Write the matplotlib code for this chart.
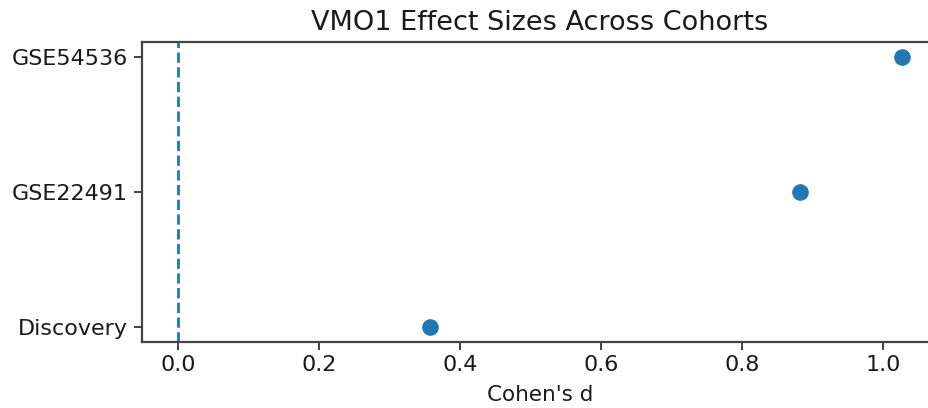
import matplotlib
matplotlib.use("Agg")
import matplotlib.pyplot as plt

cohorts = ["Discovery", "GSE22491", "GSE54536"]
cohens_d = [0.357, 0.882, 1.027]
title = "VMO1 Effect Sizes Across Cohorts"
xlabel = "Cohen's d"

fig = plt.figure(figsize=(9.29, 4.08), dpi=100)
x0 = 142 / 929
y0 = (408 - 342) / 408
w = (938 - 142) / 929
h = (342 - 42) / 408
ax = fig.add_axes([x0, y0, w, h])

ax.scatter(cohens_d, range(len(cohorts)), s=120, color="#1f77b4", zorder=3)
ax.axvline(0, linestyle="--", color="#1f77b4", linewidth=2)
ax.set_yticks(range(len(cohorts)))
ax.set_yticklabels(cohorts)
ax.set_xlim(-0.0513, 1.078)
ax.set_ylim(-0.11, 2.11)
ax.set_xticks([0.0, 0.2, 0.4, 0.6, 0.8, 1.0])
ax.tick_params(labelsize=16, length=6, width=1.3, color="#333333", labelcolor="#1a1a1a")
ax.tick_params(axis="y", pad=4)
for sp in ax.spines.values():
    sp.set_linewidth(1.6)
    sp.set_color("#444444")
ax.set_xlabel(xlabel, fontsize=15.5, color="#1a1a1a", labelpad=7)
ax.set_title(title, fontsize=19.5, color="#1a1a1a", pad=9)

fig.savefig("out.png", dpi=100)
